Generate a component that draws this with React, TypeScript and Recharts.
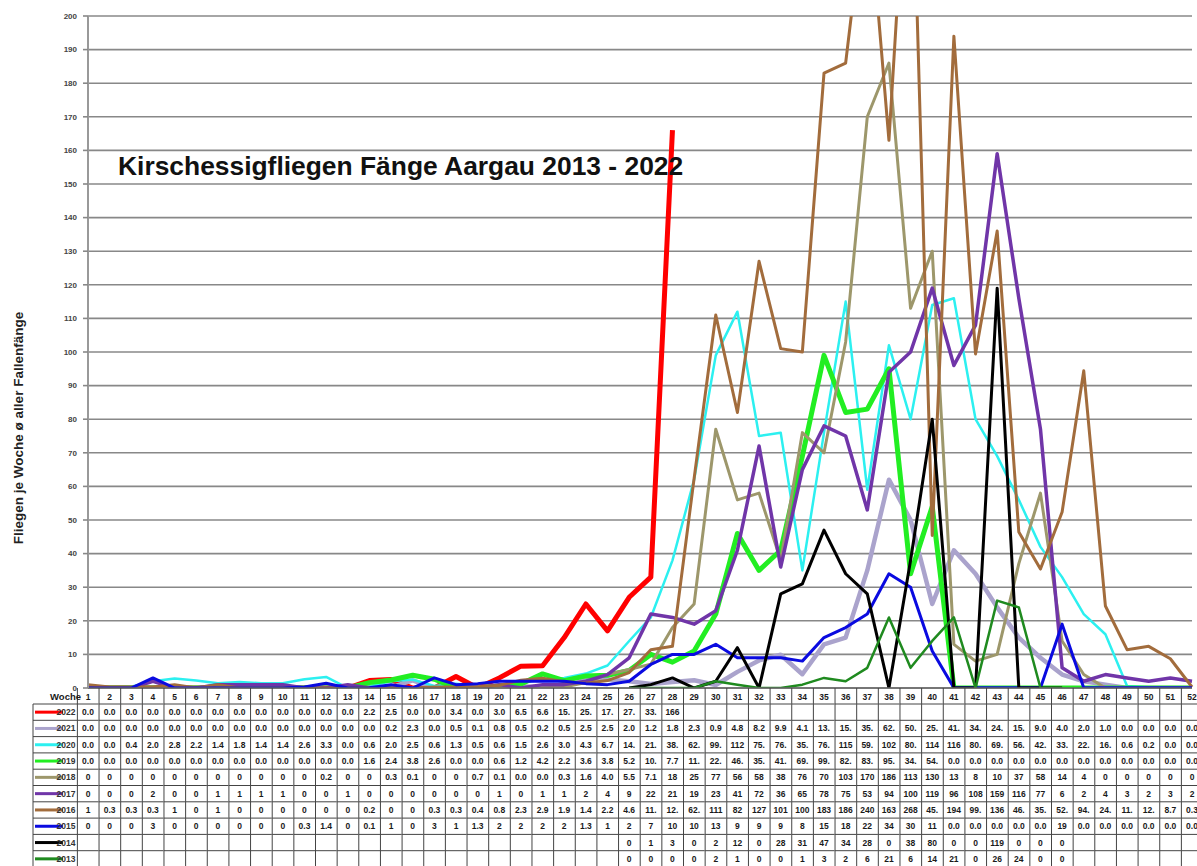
import React from 'react';
import { ComposedChart, Line, XAxis, YAxis, CartesianGrid } from 'recharts';

const FONT = 'Arial, "Liberation Sans", Helvetica, sans-serif';

// Kalenderwochen
const weeks = [
  1, 2, 3, 4, 5, 6, 7, 8, 9, 10, 11, 12, 13, 14, 15, 16, 17, 18, 19, 20, 21, 22, 23, 24, 25, 26,
  27, 28, 29, 30, 31, 32, 33, 34, 35, 36, 37, 38, 39, 40, 41, 42, 43, 44, 45, 46, 47, 48, 49, 50, 51, 52,
];
const yTicks = [0, 10, 20, 30, 40, 50, 60, 70, 80, 90, 100, 110, 120, 130, 140, 150, 160, 170, 180, 190, 200];

// Fliegen je Woche (Ø aller Fallenfänge), Woche 1..52
const y2022 = [
  0, 0, 0, 0, 0, 0, 0, 0, 0, 0, 0, 0, 0, 2.2, 2.5, 0, 0, 3.4, 0, 3.0, 6.5, 6.6, 15, 25, 17, 27,
  33, 166, null, null, null, null, null, null, null, null, null, null, null, null, null, null, null, null, null, null, null, null, null, null, null, null,
];
const y2021 = [
  0, 0, 0, 0, 0, 0, 0, 0, 0, 0, 0, 0, 0, 0, 0.2, 2.3, 0, 0.5, 0.1, 0.8, 0.5, 0.2, 0.5, 2.5, 2.5, 2.0,
  1.2, 1.8, 2.3, 0.9, 4.8, 8.2, 9.9, 4.1, 13, 15, 35, 62, 50, 25, 41, 34, 24, 15, 9, 4, 2, 1, 0, 0, 0, 0,
];
const y2020 = [
  0, 0, 0.4, 2.0, 2.8, 2.2, 1.4, 1.8, 1.4, 1.4, 2.6, 3.3, 0, 0.6, 2.0, 2.5, 0.6, 1.3, 0.5, 0.6, 1.5, 2.6, 3.0, 4.3, 6.7, 14,
  21, 38, 62, 99, 112, 75, 76, 35, 76, 115, 59, 102, 80, 114, 116, 80, 69, 56, 42, 33, 22, 16, 0.6, 0.2, 0, 0,
];
const y2019 = [
  0, 0, 0, 0, 0, 0, 0, 0, 0, 0, 0, 0, 0, 1.6, 2.4, 3.8, 2.6, 0, 0, 0.6, 1.2, 4.2, 2.2, 3.6, 3.8, 5.2,
  10, 7.7, 11, 22, 46, 35, 41, 69, 99, 82, 83, 95, 34, 54, 0, 0, 0, 0, 0, 0, 0, 0, 0, 0, 0, 0,
];
const y2018 = [
  0, 0, 0, 0, 0, 0, 0, 0, 0, 0, 0, 0.2, 0, 0, 0.3, 0.1, 0, 0, 0.7, 0.1, 0.04, 0.04, 0.3, 1.6, 4.04, 5.5,
  7.1, 18, 25, 77, 56, 58, 38, 76, 70, 103, 170, 186, 113, 130, 13, 8, 10, 37, 58, 14, 4, 0, 0, 0, 0, 0,
];
const y2017 = [
  0, 0, 0, 2, 0, 0, 1, 1, 1, 1, 0, 0, 1, 0, 0, 0, 0, 0, 0, 1, 0, 1, 1, 2, 4, 9,
  22, 21, 19, 23, 41, 72, 36, 65, 78, 75, 53, 94, 100, 119, 96, 108, 159, 116, 77, 6, 2, 4, 3, 2, 3, 2,
];
const y2016 = [
  1, 0.3, 0.3, 0.3, 1, 0, 1, 0, 0, 0, 0, 0, 0, 0.2, 0, 0, 0.3, 0.3, 0.4, 0.8, 2.3, 2.9, 1.9, 1.4, 2.2, 4.6,
  11.4, 12.4, 62.4, 111, 82, 127, 101, 100, 183, 186, 240, 163, 268, 45.4, 194, 99.4, 136, 46.4, 35.4, 52.4, 94.4, 24.4, 11.4, 12.4, 8.7, 0.3,
];
const y2015 = [
  0, 0, 0, 3, 0, 0, 0, 0, 0, 0, 0.3, 1.4, 0, 0.1, 1, 0, 3, 1, 1.3, 2, 2, 2, 2, 1.3, 1, 2,
  7, 10, 10, 13, 9, 9, 9, 8, 15, 18, 22, 34, 30, 11, 0.04, 0.04, 0.04, 0.04, 0.04, 19, 0.04, 0.04, 0.04, 0.04, 0.04, 0.04,
];
const y2014 = [
  null, null, null, null, null, null, null, null, null, null, null, null, null, null, null, null, null, null, null, null, null, null, null, null, null, 0,
  1, 3, 0, 2, 12, 0, 28, 31, 47, 34, 28, 0, 38, 80, 0, 0, 119, 0, 0, 0, null, null, null, null, null, null,
];
const y2013 = [
  null, null, null, null, null, null, null, null, null, null, null, null, null, null, null, null, null, null, null, null, null, null, null, null, null, 0,
  0, 0, 0, 2, 1, 0, 0, 1, 3, 2, 6, 21, 6, 14, 21, 0, 26, 24, 0, 0, null, null, null, null, null, null,
];

// Reihenfolge wie in der Datentabelle (spätere Reihen liegen oben)
const series = [
  { year: '2022', values: y2022, color: '#ff0000', width: 5, fixed: true },
  { year: '2021', values: y2021, color: '#aaa3cc', width: 4.5, fixed: true },
  { year: '2020', values: y2020, color: '#2cf0f0', width: 2.5, fixed: true },
  { year: '2019', values: y2019, color: '#22ee22', width: 5, fixed: true },
  { year: '2018', values: y2018, color: '#9d976b', width: 3, fixed: false },
  { year: '2017', values: y2017, color: '#7035a8', width: 3.5, fixed: false },
  { year: '2016', values: y2016, color: '#a26c3c', width: 3, fixed: false },
  { year: '2015', values: y2015, color: '#0a0ae0', width: 3, fixed: false },
  { year: '2014', values: y2014, color: '#000000', width: 3, fixed: false },
  { year: '2013', values: y2013, color: '#1f8a1f', width: 2.5, fixed: false },
];

const data = weeks.map((w, i) => {
  const row: any = { week: w };
  series.forEach((s) => {
    row['y' + s.year] = s.values[i];
  });
  return row;
});

const W = 1197;
const H = 866;
const Y_AXIS_W = 88;
const MARGIN_RIGHT = 5;
const X_AXIS_H = 178;
const BAND = (W - Y_AXIS_W - MARGIN_RIGHT) / weeks.length;
const HEADER_H = 16;
const ROW_H = 16.3;
const LABEL_LEFT = 33;
const GRID = '#444';

const fmt = (v: number | null, fixed: boolean) => {
  if (v === null || v === undefined) return '';
  const s = fixed ? v.toFixed(1) : String(v);
  return s.slice(0, 3);
};

// Datentabelle unter der x-Achse, eine Spalte pro Tick
const TableTick = (props: any) => {
  const { x, y, payload } = props;
  const i = weeks.indexOf(Number(payload.value));
  const left = x - BAND / 2;
  const right = x + BAND / 2;
  const bottom = y + HEADER_H + series.length * ROW_H;
  const textStyle = { fontFamily: FONT, fontSize: 8.5, fontWeight: 'bold' as const, fill: '#1a1a1a' };

  return (
    <g>
      <line x1={left} y1={y} x2={left} y2={bottom} stroke={GRID} strokeWidth={1} />
      {i === weeks.length - 1 && <line x1={right} y1={y} x2={right} y2={bottom} stroke={GRID} strokeWidth={1} />}
      <text x={x} y={y + 11.5} textAnchor="middle" {...textStyle}>
        {payload.value}
      </text>
      {series.map((s, r) => {
        const top = y + HEADER_H + r * ROW_H;
        return (
          <g key={s.year}>
            <line x1={left} y1={top} x2={right} y2={top} stroke={GRID} strokeWidth={1} />
            <text x={x} y={top + ROW_H / 2 + 3} textAnchor="middle" {...textStyle}>
              {fmt(s.values[i], s.fixed)}
            </text>
          </g>
        );
      })}
      <line x1={left} y1={bottom} x2={right} y2={bottom} stroke={GRID} strokeWidth={1} />

      {i === 0 && (
        <g>
          <text x={81} y={y + 12} textAnchor="end" {...textStyle} fontSize={9.5}>
            Woche
          </text>
          <line x1={LABEL_LEFT} y1={y + HEADER_H} x2={LABEL_LEFT} y2={bottom} stroke={GRID} strokeWidth={1} />
          {series.map((s, r) => {
            const top = y + HEADER_H + r * ROW_H;
            const mid = top + ROW_H / 2;
            return (
              <g key={s.year}>
                <line x1={LABEL_LEFT} y1={top} x2={left} y2={top} stroke={GRID} strokeWidth={1} />
                <line x1={LABEL_LEFT + 2} y1={mid} x2={LABEL_LEFT + 30} y2={mid} stroke={s.color} strokeWidth={3} />
                <text x={left - 2} y={mid + 3} textAnchor="end" {...textStyle} fill="#333">
                  {s.year}
                </text>
              </g>
            );
          })}
          <line x1={LABEL_LEFT} y1={bottom} x2={left} y2={bottom} stroke={GRID} strokeWidth={1} />
        </g>
      )}
    </g>
  );
};

export default function App() {
  return (
    <div style={{ position: 'absolute', left: 0, top: 0, width: W, height: H, background: '#fff', fontFamily: FONT }}>
      <ComposedChart width={W} height={H} data={data} margin={{ top: 16, right: MARGIN_RIGHT, bottom: 0, left: 0 }}>
        <CartesianGrid vertical={false} stroke="#888" strokeWidth={1.6} />
        <XAxis
          dataKey="week"
          interval={0}
          height={X_AXIS_H}
          tickLine={false}
          tickSize={0}
          tickMargin={0}
          axisLine={{ stroke: '#666', strokeWidth: 1.5 }}
          tick={(p: any) => <TableTick {...p} />}
        />
        <YAxis
          domain={[0, 200]}
          ticks={yTicks}
          interval={0}
          allowDataOverflow
          width={Y_AXIS_W}
          tickSize={5}
          tickMargin={6}
          tickLine={{ stroke: '#888', strokeWidth: 1.6 }}
          axisLine={{ stroke: '#999', strokeWidth: 2 }}
          tick={{ fontSize: 8, fill: '#444', fontWeight: 'bold', fontFamily: FONT }}
        />
        <YAxis
          yAxisId="right"
          orientation="right"
          domain={[0, 200]}
          width={0}
          tick={false}
          tickLine={false}
          axisLine={{ stroke: '#aaa', strokeWidth: 2 }}
        />
        {series.map((s) => (
          <Line
            key={s.year}
            dataKey={'y' + s.year}
            name={s.year}
            type="linear"
            stroke={s.color}
            strokeWidth={s.width}
            strokeLinejoin="round"
            dot={false}
            activeDot={false}
            connectNulls={false}
            isAnimationActive={false}
          />
        ))}
      </ComposedChart>
      <svg width={W} height={H} style={{ position: 'absolute', left: 0, top: 0, pointerEvents: 'none' }}>
        <text x={118} y={175} fontFamily={FONT} fontSize={26.4} fontWeight="bold" fill="#111">
          Kirschessigfliegen Fänge Aargau 2013 - 2022
        </text>
        <text
          transform="rotate(-90)"
          x={-428}
          y={23}
          textAnchor="middle"
          fontFamily={FONT}
          fontSize={13.5}
          fontWeight="bold"
          fill="#222"
        >
          Fliegen je Woche ø aller Fallenfänge
        </text>
      </svg>
    </div>
  );
}
